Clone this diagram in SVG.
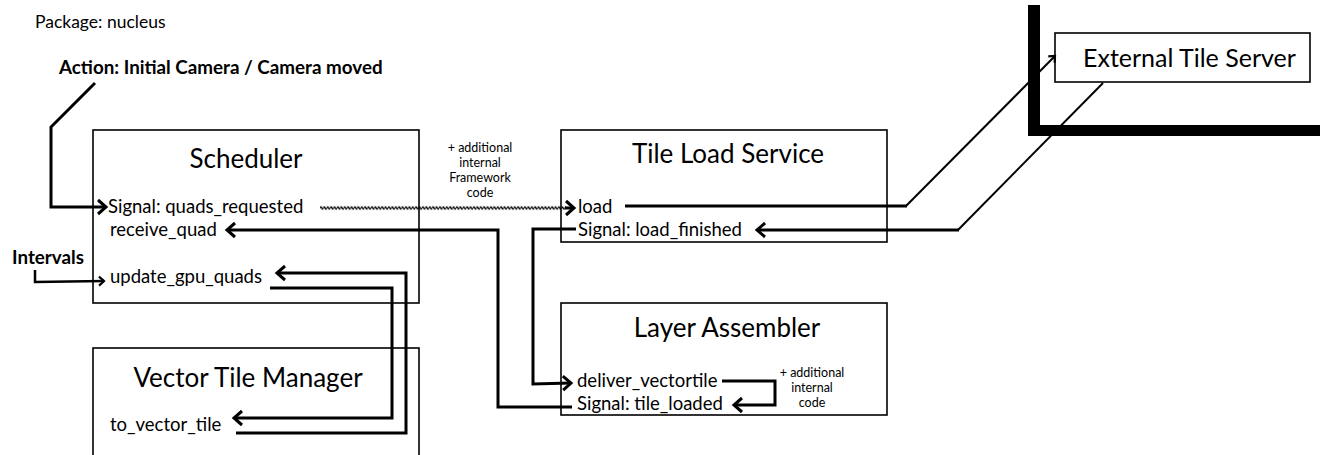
<svg xmlns="http://www.w3.org/2000/svg" width="1320" height="455" viewBox="0 0 1320 455">
  <style>
    text { font-family: Lato, "Open Sans", "Liberation Sans", sans-serif; fill: #000; }
    .title { font-size: 26px; text-anchor: middle; }
    .ext { font-size: 25px; }
    .m { font-size: 18.5px; }
    .note { font-size: 12.5px; text-anchor: middle; }
    .hdr { font-size: 17.5px; }
    .bold { font-size: 18.8px; font-weight: bold; }
    .box { fill: #fff; stroke: #000; stroke-width: 1.6; }
    .wire { fill: none; stroke: #000; stroke-width: 3; stroke-linejoin: miter; }
    .thin { fill: none; stroke: #000; stroke-width: 2; }
  </style>
  <defs>
    <marker id="chev" markerUnits="userSpaceOnUse" viewBox="-12 -10 14 20" refX="0" refY="0" markerWidth="14" markerHeight="20" orient="auto" overflow="visible">
      <path d="M-8,-7 L0,0 L-8,7" fill="none" stroke="#000" stroke-width="3"/>
    </marker>
    <marker id="chevS" markerUnits="userSpaceOnUse" viewBox="-8 -6 10 12" refX="0" refY="0" markerWidth="10" markerHeight="12" orient="auto" overflow="visible">
      <path d="M-5,-4.5 L0,0 L-5,4.5" fill="none" stroke="#000" stroke-width="2.2"/>
    </marker>
    <!-- small sine wave tile for the framework-code link -->
    <pattern id="wave" patternUnits="userSpaceOnUse" x="320" y="205.5" width="3.4" height="5">
      <path d="M-0.1,2.5 Q0.85,0.6 1.7,2.5 T3.5,2.5" fill="none" stroke="#000" stroke-width="1.5"/>
    </pattern>
  </defs>

  <!-- headings -->
  <text class="hdr" x="35" y="28">Package: nucleus</text>
  <text class="bold" x="59" y="74">Action: Initial Camera / Camera moved</text>
  <text class="bold" x="12" y="264">Intervals</text>

  <!-- external boundary -->
  <path d="M1028,5 H1040 V125 H1320 V136 H1028 Z" fill="#000"/>

  <g id="scheduler">
    <rect class="box" x="93" y="130" width="326" height="173"/>
    <text class="title" x="246" y="168">Scheduler</text>
    <text class="m" x="108" y="213">Signal: quads_requested</text>
    <text class="m" x="110" y="236">receive_quad</text>
    <text class="m" x="110" y="283">update_gpu_quads</text>
  </g>

  <g id="vector-tile-manager">
    <rect class="box" x="93" y="348" width="326" height="120"/>
    <text class="title" x="248" y="387">Vector Tile Manager</text>
    <text class="m" x="110" y="431">to_vector_tile</text>
  </g>

  <g id="tile-load-service">
    <rect class="box" x="561" y="130" width="326" height="112"/>
    <text class="title" x="728" y="163">Tile Load Service</text>
    <text class="m" x="578" y="213">load</text>
    <text class="m" x="578" y="236">Signal: load_finished</text>
  </g>

  <g id="layer-assembler">
    <rect class="box" x="561" y="303" width="326" height="112"/>
    <text class="title" x="727" y="337">Layer Assembler</text>
    <text class="m" x="577" y="387">deliver_vectortile</text>
    <text class="m" x="577" y="410">Signal: tile_loaded</text>
    <text class="note" x="812" y="377">+ additional</text>
    <text class="note" x="812" y="392">internal</text>
    <text class="note" x="812" y="407">code</text>
  </g>

  <g id="external-tile-server">
    <rect class="box" x="1055" y="33" width="255" height="49"/>
    <text class="ext" x="1083" y="67">External Tile Server</text>
  </g>

  <g id="framework-note">
    <text class="note" x="480" y="152">+ additional</text>
    <text class="note" x="480" y="167">internal</text>
    <text class="note" x="480" y="182">Framework</text>
    <text class="note" x="480" y="197">code</text>
  </g>

  <g id="connectors">
    <!-- camera action into scheduler -->
    <path class="wire" d="M95,83 L51,127 L51,207 L106,207" marker-end="url(#chev)"/>
    <!-- intervals -->
    <path class="wire" style="stroke-width:2.5" d="M35,270 L35,282 L104,281" marker-end="url(#chevS)"/>
    <!-- quads_requested to load (through framework code) -->
    <rect x="320" y="205.5" width="246" height="5" fill="url(#wave)"/>
    <path class="wire" d="M565,208 H574" marker-end="url(#chev)"/>
    <!-- load to external tile server -->
    <path class="wire" d="M625,206 L907,206"/>
    <path class="thin" d="M906,206 L1055,56" marker-end="url(#chevS)"/>
    <!-- external tile server back to load_finished -->
    <path class="thin" d="M1103,83 L958,230"/>
    <path class="wire" d="M959,230 L757,230" marker-end="url(#chev)"/>
    <!-- load_finished to deliver_vectortile -->
    <path class="wire" d="M576,229 L533,229 L533,384 L571,383" marker-end="url(#chev)"/>
    <!-- tile_loaded to receive_quad -->
    <path class="wire" d="M572,407 L498,407 L498,230 L227,230" marker-end="url(#chev)"/>
    <!-- internal layer assembler code -->
    <path class="wire" d="M722,381 L775,381 L775,405 L734,405" marker-end="url(#chev)"/>
    <!-- update_gpu_quads to to_vector_tile -->
    <path class="wire" d="M270,288 L392,288 L392,418 L234,418" marker-end="url(#chev)"/>
    <!-- to_vector_tile back to update_gpu_quads -->
    <path class="wire" d="M236,433 L406,433 L406,273 L277,273" marker-end="url(#chev)"/>
  </g>
</svg>
